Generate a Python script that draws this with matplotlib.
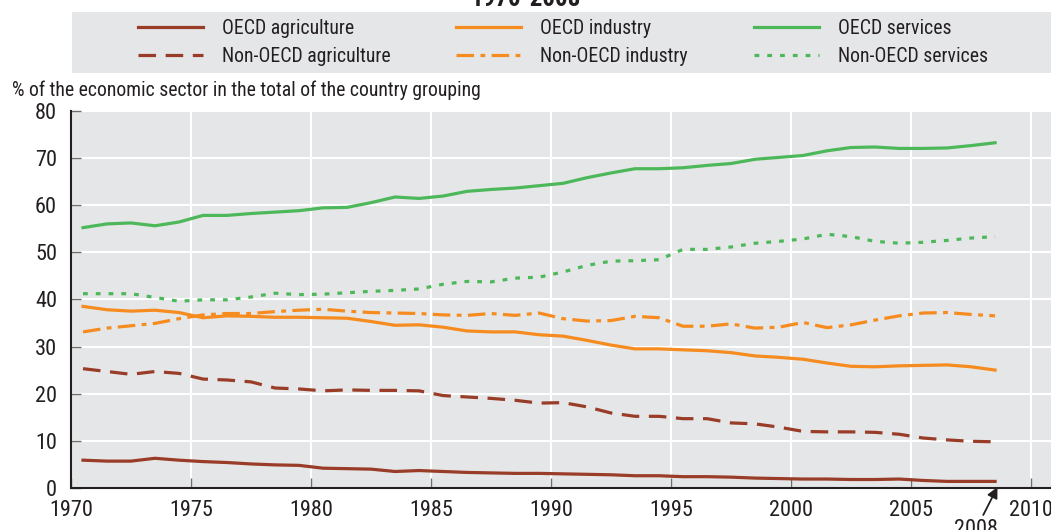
import matplotlib.pyplot as plt
from matplotlib.patches import Rectangle
import numpy as np

plt.rcParams['font.family'] = ['Roboto Condensed', 'DejaVu Sans']
plt.rcParams['font.stretch'] = 'condensed'

# Data: share of each sector (%) by year, plotted at mid-year
years = np.arange(1970, 2009)

oecd_agri = [5.9, 5.7, 5.7, 6.3, 5.9, 5.6, 5.4, 5.1, 4.9, 4.8,
             4.2, 4.1, 4.0, 3.5, 3.7, 3.5, 3.3, 3.2, 3.1, 3.1,
             3.0, 2.9, 2.8, 2.6, 2.6, 2.4, 2.4, 2.3, 2.1, 2.0,
             1.9, 1.9, 1.8, 1.8, 1.9, 1.6, 1.4, 1.4, 1.4]
non_oecd_agri = [25.3, 24.7, 24.1, 24.7, 24.3, 23.1, 22.9, 22.5, 21.2, 21.0,
                 20.6, 20.8, 20.7, 20.7, 20.6, 19.6, 19.3, 19.0, 18.6, 18.0,
                 18.1, 17.2, 15.9, 15.2, 15.2, 14.7, 14.7, 13.8, 13.6, 12.9,
                 12.0, 11.9, 11.9, 11.8, 11.4, 10.6, 10.2, 9.9, 9.8]
oecd_ind = [38.5, 37.8, 37.5, 37.7, 37.2, 36.1, 36.5, 36.4, 36.2, 36.2,
            36.1, 36.0, 35.3, 34.5, 34.6, 34.1, 33.3, 33.1, 33.1, 32.5,
            32.2, 31.3, 30.3, 29.5, 29.5, 29.3, 29.1, 28.7, 28.0, 27.7,
            27.3, 26.5, 25.8, 25.7, 25.9, 26.0, 26.1, 25.7, 25.0]
non_oecd_ind = [33.1, 33.9, 34.4, 34.9, 35.9, 36.7, 37.0, 37.0, 37.4, 37.7,
                37.9, 37.5, 37.2, 37.1, 37.0, 36.7, 36.6, 37.0, 36.6, 37.1,
                35.9, 35.4, 35.5, 36.4, 36.1, 34.3, 34.3, 34.8, 33.9, 34.1,
                35.1, 34.0, 34.6, 35.6, 36.5, 37.1, 37.2, 36.8, 36.5]
oecd_serv = [55.2, 56.0, 56.2, 55.6, 56.4, 57.8, 57.8, 58.2, 58.5, 58.8,
             59.4, 59.5, 60.5, 61.7, 61.4, 61.9, 62.9, 63.3, 63.6, 64.1,
             64.6, 65.8, 66.8, 67.7, 67.7, 67.9, 68.4, 68.8, 69.7, 70.1,
             70.5, 71.5, 72.2, 72.3, 72.0, 72.0, 72.1, 72.6, 73.2]
non_oecd_serv = [41.2, 41.2, 41.2, 40.4, 39.6, 39.9, 39.9, 40.5, 41.3, 41.0,
                 41.1, 41.4, 41.7, 41.9, 42.2, 43.2, 43.8, 43.7, 44.5, 44.7,
                 45.8, 47.2, 48.1, 48.2, 48.4, 50.6, 50.6, 51.1, 51.9, 52.3,
                 52.8, 53.8, 53.3, 52.3, 51.9, 52.1, 52.5, 53.0, 53.3]

brown = '#993C28'
orange = '#F68B1F'
green = '#4DB85A'
bg = '#E5E6E8'
txt = '#231F20'
x = years + 0.5

fig = plt.figure(figsize=(10.51, 5.30), dpi=100)
ax = fig.add_axes([71 / 1051, 1 - 488 / 530, 1 - 71 / 1051, (488 - 110.7) / 530])
ax.set_facecolor(bg)

lw = 2.3
h1, = ax.plot(x, oecd_agri, color=brown, lw=lw, label='OECD agriculture')
h2, = ax.plot(x, non_oecd_agri, color=brown, lw=lw, dashes=(5.5, 3), label='Non-OECD agriculture')
h3, = ax.plot(x, oecd_ind, color=orange, lw=lw, label='OECD industry')
h4, = ax.plot(x, non_oecd_ind, color=orange, lw=lw, dashes=(5.5, 2, 1.5, 2), label='Non-OECD industry')
h5, = ax.plot(x, oecd_serv, color=green, lw=lw, label='OECD services')
h6, = ax.plot(x, non_oecd_serv, color=green, lw=lw, dashes=(1.5, 2.5), label='Non-OECD services')

ax.set_xlim(1970, 2010.83)
ax.set_ylim(0, 80)
ax.set_xticks(range(1970, 2011, 5))
ax.set_yticks(range(0, 81, 10))
ax.grid(True, color='white', lw=1.5)
ax.set_axisbelow(True)
for s in ['top', 'right']:
    ax.spines[s].set_visible(False)
for s in ['left', 'bottom']:
    ax.spines[s].set_color(txt)
    ax.spines[s].set_linewidth(1.5)
ax.tick_params(direction='in', length=7, width=1, color='#6d6e70', labelsize=16,
               labelcolor=txt)
ax.tick_params(axis='y', pad=10)
ax.tick_params(axis='x', pad=9)

ax.annotate('2008', xy=(2008.6, 0.2), xytext=(2007.7, -8.8), ha='center', va='center',
            fontsize=16, color=txt, annotation_clip=False,
            arrowprops=dict(arrowstyle='-|>', color=txt, lw=1.3, shrinkA=1, shrinkB=0))

fig.text(12 / 1051, 1 - 90 / 530, '% of the economic sector in the total of the country grouping',
         fontsize=14.2, color=txt, va='center', ha='left')

fig.text(0.5, 1 - 6 / 530, '1970-2008', fontsize=18, fontweight='bold', ha='center',
         va='baseline', color=txt)

fig.patches.append(Rectangle((72 / 1051, 1 - 73 / 530), 1 - 72 / 1051, 61 / 530,
                             transform=fig.transFigure, facecolor=bg, edgecolor='none'))
fig.legend(handles=[h1, h2, h3, h4, h5, h6], ncol=3, loc='center left',
           bbox_to_anchor=(120 / 1051, 1 - 42.5 / 530), frameon=False, fontsize=14.2,
           handlelength=3.3, handletextpad=0.95, columnspacing=3.35, labelspacing=0.42,
           labelcolor=txt)

fig.savefig('out.png', dpi=100)
